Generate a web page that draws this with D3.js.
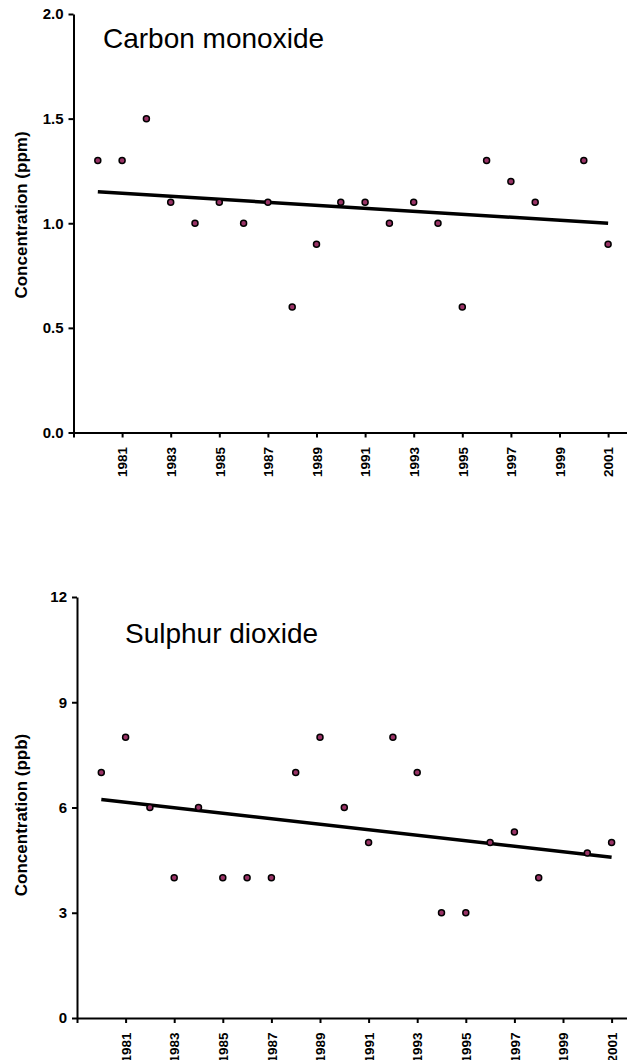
<!DOCTYPE html>
<html>
<head>
<meta charset="utf-8">
<script src="https://cdn.jsdelivr.net/npm/d3@7"></script>
<style>
  body{margin:0;background:#fff;}
  svg{display:block;font-family:"Liberation Sans",Arial,sans-serif;}
  .tick text{font-family:"Liberation Sans",Arial,sans-serif;font-weight:bold;font-size:13.5px;fill:#000;}
  .yaxis .tick text{font-size:15px;}
  .domain,.tick line{stroke:#000;stroke-width:2;}
</style>
</head>
<body>
<div id="chart"></div>
<script>
//data, 1999 has no reading in either series
var years = [1980,1981,1982,1983,1984,1985,1986,1987,1988,1989,1990,1991,1992,1993,1994,1995,1996,1997,1998,1999,2000,2001];
var coValues = [1.3,1.3,1.5,1.1,1.0,1.1,1.0,1.1,0.6,0.9,1.1,1.1,1.0,1.1,1.0,0.6,1.3,1.2,1.1,null,1.3,0.9];
var so2Values = [7,8,6,4,6,4,4,4,7,8,6,5,8,7,3,3,5,5.3,4,null,4.7,5];

//trend lines, value at first and last year
var trendYears = [1980,2001];
var coTrend = [1.15,1.0];
var so2Trend = [6.23,4.58];

var xTickYears = [1979,1981,1983,1985,1987,1989,1991,1993,1995,1997,1999,2001];
var coTicks = [0,0.5,1,1.5,2];
var so2Ticks = [0,3,6,9,12];

var svg = d3.select('#chart').append('svg')
  .attr('width',627)
  .attr('height',1060);

function drawPanel(opts){
  var x = d3.scaleLinear().domain([1979,2002]).range([opts.left,opts.left+23*24.3]);
  var y = d3.scaleLinear().domain(opts.yDomain).range([opts.bottom,opts.top]);
  var g = svg.append('g');

  //y axis
  g.append('g')
    .attr('class','yaxis')
    .attr('transform','translate('+opts.left+',0)')
    .call(d3.axisLeft(y).tickValues(opts.ticks).tickFormat(opts.format).tickSize(5).tickSizeOuter(0).tickPadding(5));

  //x axis with the year labels turned on their side
  var xAxis = g.append('g')
    .attr('transform','translate(0,'+opts.bottom+')')
    .call(d3.axisBottom(x).tickValues(xTickYears).tickFormat(function(d){
      return d==1979 ? '' : d;
    }).tickSize(5).tickSizeOuter(0));
  xAxis.selectAll('.tick text')
    .attr('transform','rotate(-90)')
    .attr('text-anchor','end')
    .attr('x',-14.5)
    .attr('y',0)
    .attr('dy','0.35em');

  //axis title
  g.append('text')
    .attr('transform','translate(27,'+opts.labelY+') rotate(-90)')
    .attr('text-anchor','middle')
    .attr('font-weight','bold')
    .attr('font-size',17)
    .text(opts.label);

  g.append('text')
    .attr('x',opts.titleX)
    .attr('y',opts.titleY)
    .attr('font-size',28)
    .text(opts.title);

  //trend line
  g.append('line')
    .attr('x1',x(trendYears[0]))
    .attr('x2',x(trendYears[1]))
    .attr('y1',y(opts.trend[0]))
    .attr('y2',y(opts.trend[1]))
    .attr('style','stroke:#000;stroke-width:3.5');

  var pts = years.map(function(yr,i){
    return {year:yr,value:opts.values[i]};
  }).filter(function(d){ return d.value!=null; });

  g.selectAll('.pt')
    .data(pts)
    .enter()
    .append('circle')
    .attr('class','pt')
    .attr('cx',function(d){ return x(d.year); })
    .attr('cy',function(d){ return y(d.value); })
    .attr('r',3)
    .attr('fill','#993366')
    .attr('stroke','#000')
    .attr('stroke-width',1.5);
}

drawPanel({
  left:73.5, top:14, bottom:432.5,
  yDomain:[0,2], ticks:coTicks, format:d3.format('.1f'),
  values:coValues, trend:coTrend,
  label:'Concentration (ppm)', labelY:215,
  title:'Carbon monoxide', titleX:103, titleY:48
});

drawPanel({
  left:77, top:597, bottom:1018,
  yDomain:[0,12], ticks:so2Ticks, format:d3.format('d'),
  values:so2Values, trend:so2Trend,
  label:'Concentration (ppb)', labelY:815,
  title:'Sulphur dioxide', titleX:125, titleY:643
});
</script>
</body>
</html>
